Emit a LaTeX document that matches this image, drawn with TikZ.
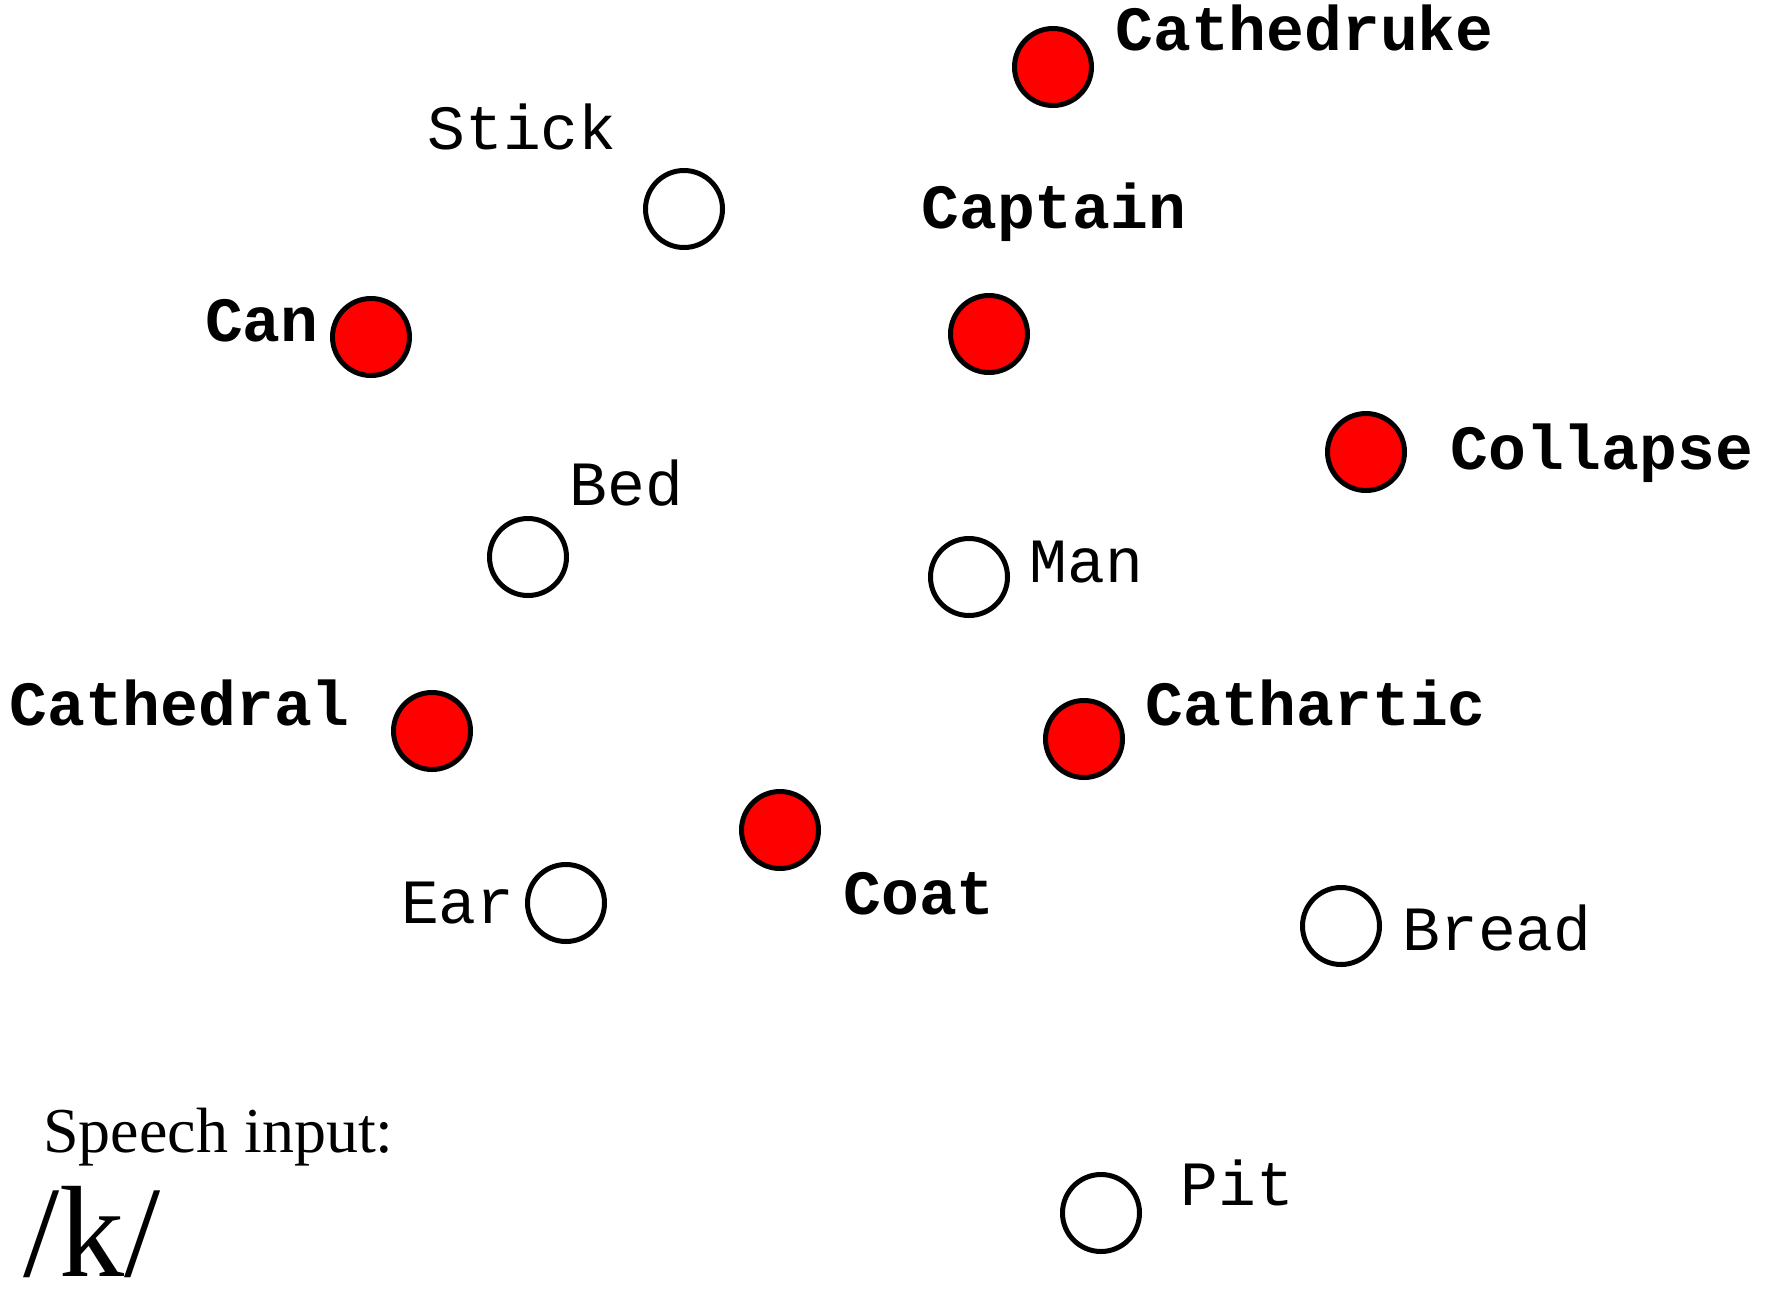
\documentclass[tikz,border=0pt]{standalone}
\usepackage{fontspec}
\setmainfont{Liberation Serif}
\setmonofont{Liberation Mono}
\usetikzlibrary{positioning}

\begin{document}
\begin{tikzpicture}[x=0.5pt, y=-0.5pt,
    word/.style={font=\fontsize{31.5}{36}\selectfont\ttfamily, inner sep=0pt},
    cue/.style={word, font=\fontsize{31.5}{36}\selectfont\ttfamily\bfseries},
    unit/.style={circle, draw, line width=2.5pt, minimum size=38.5pt,
                 inner sep=0pt, fill=white},
    active/.style={unit, fill=red}
  ]
    \useasboundingbox (0,0) rectangle (1773,1291);

    % lexical units
    \node[active] (cathedruke) at (1053,67)  {};
    \node[unit]   (stick)      at (684,209)  {};
    \node[active] (captain)    at (989,334)  {};
    \node[active] (can)        at (371,337)  {};
    \node[active] (collapse)   at (1366,452) {};
    \node[unit]   (bed)        at (528,557)  {};
    \node[unit]   (man)        at (969,577)  {};
    \node[active] (cathedral)  at (432,731)  {};
    \node[active] (cathartic)  at (1084,739) {};
    \node[active] (coat)       at (780,830)  {};
    \node[unit]   (ear)        at (566,903)  {};
    \node[unit]   (bread)      at (1341,926) {};
    \node[unit]   (pit)        at (1101,1213) {};

    % labels
    \node[cue, anchor=base west]  (cathedruke-l) at (1115,50)  {Cathedruke};
    \node[word, anchor=base west] (stick-l)      at (427,149)  {Stick};
    \node[cue, anchor=base west]  (captain-l)    at (921,228)  {Captain};
    \node[cue, anchor=base east]  (can-l)        at (319,341)  {Can};
    \node[cue, anchor=base west]  (collapse-l)   at (1450,469) {Collapse};
    \node[word, anchor=base west] (bed-l)        at (569,505)  {Bed};
    \node[word, anchor=base west] (man-l)        at (1029,582) {Man};
    \node[cue, anchor=base west]  (cathedral-l)  at (9,725)    {Cathedral};
    \node[cue, anchor=base west]  (cathartic-l)  at (1145,725) {Cathartic};
    \node[cue, anchor=base west]  (coat-l)       at (843,914)  {Coat};
    \node[word, anchor=base east] (ear-l)        at (515,923)  {Ear};
    \node[word, anchor=base west] (bread-l)      at (1402,950) {Bread};
    \node[word, anchor=base west] (pit-l)        at (1180,1205) {Pit};

    % input
    \node[anchor=base west, inner sep=0pt, font=\fontsize{32}{36}\selectfont]
      (input) at (43,1152) {Speech input:};
    \node[anchor=base west, inner sep=0pt, font=\fontsize{65}{70}\selectfont]
      (phone) at (23,1276) {/k/};
\end{tikzpicture}
\end{document}
